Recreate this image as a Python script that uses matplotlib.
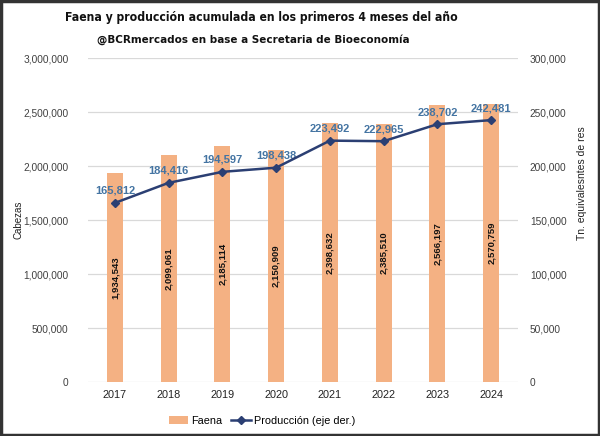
import matplotlib
matplotlib.use("Agg")
import matplotlib.pyplot as plt
from matplotlib.patches import Rectangle
from matplotlib.lines import Line2D
from matplotlib.patches import Patch

years = ["2017", "2018", "2019", "2020", "2021", "2022", "2023", "2024"]
faena = [1934543, 2099061, 2185114, 2150909, 2398632, 2385510, 2566197, 2570759]
produccion = [165812, 184416, 194597, 198438, 223492, 222965, 238702, 242481]
left_ticks = [0, 500000, 1000000, 1500000, 2000000, 2500000, 3000000]
right_ticks = [0, 50000, 100000, 150000, 200000, 250000, 300000]

BAR = "#F4B183"
LINE = "#2B3F73"
LBL = "#4474A2"
TICK = "#404040"
FONT = "Liberation Sans"

fig = plt.figure(figsize=(6.0, 4.36), dpi=100)
ax = fig.add_axes([88/600, 1-382/436, (518-88)/600, (382-58)/436])
ax2 = ax.twinx()

x = list(range(len(years)))
ax.bar(x, faena, width=0.3, color=BAR, zorder=2)
ax.set_ylim(0, 3000000)
ax.set_xlim(-0.5, len(years)-0.5)
ax.set_yticks(left_ticks)
ax.set_yticklabels([f"{v:,}" for v in left_ticks], fontsize=7.3, color=TICK, family=FONT)
ax.set_xticks(x)
ax.set_xticklabels(years, fontsize=7.8, color="#222222", family=FONT)
ax.grid(axis="y", color="#D9D9D9", lw=0.9, zorder=0)
ax.set_axisbelow(True)
ax.tick_params(length=0, pad=6)
ax.tick_params(axis="y", pad=14)
for s in ax.spines.values():
    s.set_visible(False)
for xi, v in zip(x, faena):
    ax.text(xi, v/2, f"{v:,}", rotation=90, ha="center", va="center",
            fontsize=6.8, fontweight="bold", color="#111111", family=FONT, zorder=3)

ax2.plot(x, produccion, color=LINE, lw=1.8, marker="D", markersize=4.5, zorder=4)
ax2.set_ylim(0, 300000)
ax2.set_yticks(right_ticks)
ax2.set_yticklabels([f"{v:,}" for v in right_ticks], fontsize=7.3, color=TICK, family=FONT)
ax2.tick_params(length=0, pad=8.5)
for s in ax2.spines.values():
    s.set_visible(False)
for xi, v in zip(x, produccion):
    ax2.annotate(f"{v:,}", (xi, v), xytext=(0, 5), textcoords="offset points",
                 ha="center", va="bottom", fontsize=8, color=LBL, family=FONT,
                 fontweight="semibold")

fig.text(19/600, 1-220/436, "Cabezas", rotation=90, ha="center", va="center",
         fontsize=7, color="#222222", family=FONT)
fig.text(582/600, 1-183/436, "Tn. equivalesntes de res", rotation=90, ha="center",
         va="center", fontsize=7.5, color="#222222", family=FONT)

handles = [Patch(facecolor=BAR, edgecolor="none"),
           Line2D([0], [0], color=LINE, lw=1.8, marker="D", markersize=4.5)]
leg = fig.legend(handles, ["Faena", "Producción (eje der.)"], loc="center",
                 bbox_to_anchor=(262/600, 1-421/436), ncol=2, frameon=False,
                 prop={"family": FONT, "size": 7.8}, handlelength=1.8,
                 handletextpad=0.3, columnspacing=0.8)

t1 = fig.text(261/600, 1-18/436, "Faena y producción acumulada en los primeros 4 meses del año",
              ha="center", va="center", fontsize=11, fontweight="bold",
              family="DejaVu Sans", fontstretch="condensed", color="#111111")
t2 = fig.text(253/600, 1-40/436, "@BCRmercados en base a Secretaria de Bioeconomía",
              ha="center", va="center", fontsize=9, fontweight="bold",
              family="DejaVu Sans", fontstretch="condensed", color="#111111")

# fit title widths to the reference (a bit wider to keep the height closer)
fig.canvas.draw()
r = fig.canvas.get_renderer()
for t, target in ((t1, 395), (t2, 310)):
    w = t.get_window_extent(r).width
    t.set_fontsize(t.get_fontsize() * target / w)

fig.patches.append(Rectangle((0.002, 0.002), 0.996, 0.996, transform=fig.transFigure,
                             fill=False, edgecolor="#333333", lw=2.5))

fig.savefig("out.png", dpi=100)
